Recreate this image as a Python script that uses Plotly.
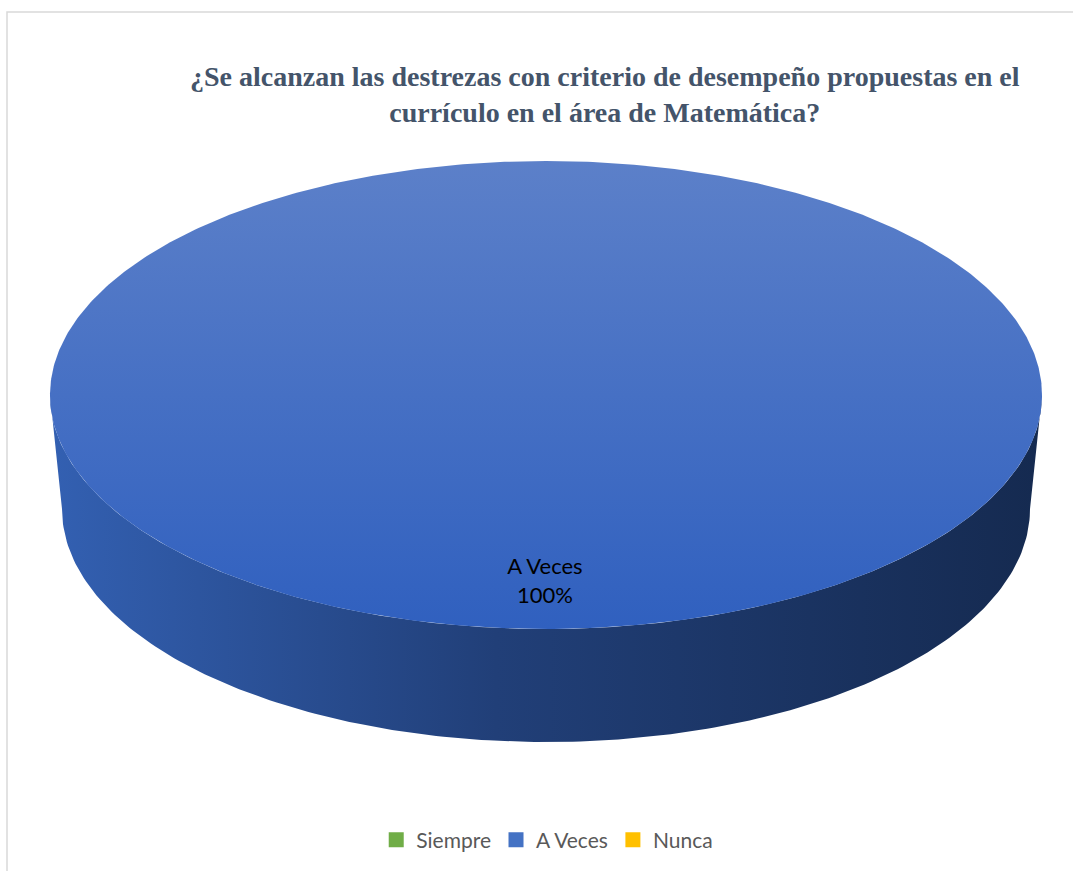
import numpy as np
import plotly.graph_objects as go

# ---- data ----
categories = ["Siempre", "A Veces", "Nunca"]
values = [0, 100, 0]
colors = ["#70ad47", "#4472c4", "#ffc000"]
title_lines = ["¿Se alcanzan las destrezas con criterio de desempeño propuestas en el",
               "currículo en el área de Matemática?"]

# ---- geometry (pixel space) ----
W, H = 1073, 871
cx, cy = 546, 395
rx, ry = 496, 234
depth = 114
rx_b, ry_b = 484, 233

# gradient colours per slice: (top-face top, top-face bottom, side left, side right)
shade = {
    "Siempre": ("#8cc168", "#5f9c3a", "#4f8430", "#26401a"),
    "A Veces": ("#5c80c9", "#3060bf", "#3360b2", "#152a50"),
    "Nunca": ("#ffd24d", "#f0b400", "#c99500", "#6b4f00"),
}

fig = go.Figure()
total = sum(values)
cum = 0.0
labels = []
for cat, v in zip(categories, values):
    if v <= 0:
        cum += v
        continue
    t0 = -np.pi / 2 + 2 * np.pi * cum / total
    t1 = -np.pi / 2 + 2 * np.pi * (cum + v) / total
    cum += v
    c_tt, c_tb, c_sl, c_sr = shade[cat]
    # side wall: visible front part t in [0, pi] (and [2pi, 3pi])
    for off in (0.0, 2 * np.pi):
        a = max(t0, off + 0.0)
        b = min(t1, off + np.pi)
        if b > a:
            tt = np.linspace(a, b, 200)
            xs_top = cx + rx * np.cos(tt)
            ys_top = cy + ry * np.sin(tt)
            xs_bot = cx + rx_b * np.cos(tt[::-1])
            ys_bot = cy + depth + ry_b * np.sin(tt[::-1])
            fig.add_trace(go.Scatter(
                x=np.concatenate([xs_top, xs_bot]),
                y=np.concatenate([ys_top, ys_bot]),
                fill="toself", mode="lines", line=dict(width=0),
                fillgradient=dict(type="horizontal",
                                  colorscale=[[0, c_sl], [0.45, "#213f78"], [1, c_sr]] if cat == "A Veces"
                                  else [[0, c_sl], [1, c_sr]]),
                hoverinfo="skip", showlegend=False))
    # top face
    tt = np.linspace(t0, t1, 600)
    xs = cx + rx * np.cos(tt)
    ys = cy + ry * np.sin(tt)
    if v < total:
        xs = np.concatenate([[cx], xs, [cx]])
        ys = np.concatenate([[cy], ys, [cy]])
    fig.add_trace(go.Scatter(
        x=xs, y=ys, fill="toself", mode="lines", line=dict(width=0),
        fillgradient=dict(type="vertical", colorscale=[[0, c_tb], [1, c_tt]]),
        hoverinfo="skip", showlegend=False))
    tm = (t0 + t1) / 2
    pct = f"{round(100 * v / total)}%"
    labels.append((cx + 0.8 * rx * np.cos(tm), cy + 0.8 * ry * np.sin(tm), f"{cat}<br>{pct}"))

for lx, ly, txt in labels:
    fig.add_trace(go.Scatter(
        x=[lx - 1], y=[ly + 1], mode="text", text=[txt],
        textfont=dict(family="Lato, Open Sans, sans-serif", size=22, color="#000000"),
        hoverinfo="skip", showlegend=False))

# legend entries
for cat, col in zip(categories, colors):
    fig.add_trace(go.Scatter(
        x=[None], y=[None], mode="markers", name=cat,
        marker=dict(symbol="square", size=15, color=col)))

fig.update_layout(
    width=W, height=H,
    margin=dict(l=0, r=0, t=0, b=0),
    paper_bgcolor="white", plot_bgcolor="white",
    xaxis=dict(range=[0, W], visible=False, fixedrange=True),
    yaxis=dict(range=[H, 0], visible=False, fixedrange=True),
    showlegend=True,
    legend=dict(orientation="h", x=0.51, xanchor="center", y=1 - 840 / H, yanchor="middle",
                font=dict(family="Lato, Open Sans, sans-serif", size=21, color="#595959"),
                itemwidth=30, tracegroupgap=0, bgcolor="rgba(0,0,0,0)"),
    shapes=[dict(type="rect", xref="x", yref="y", x0=7, y0=12, x1=W + 10, y1=H + 10,
                 line=dict(color="#d9d9d9", width=1.5), fillcolor="rgba(0,0,0,0)", layer="below")],
    annotations=[dict(x=605, y=94, xref="x", yref="y", showarrow=False,
                      text="<b>" + "<br>".join(title_lines) + "</b>", align="center",
                      font=dict(family="Liberation Serif, Times New Roman, serif", size=28,
                                color="#44546a"))],
)

fig.write_html("out.html")
